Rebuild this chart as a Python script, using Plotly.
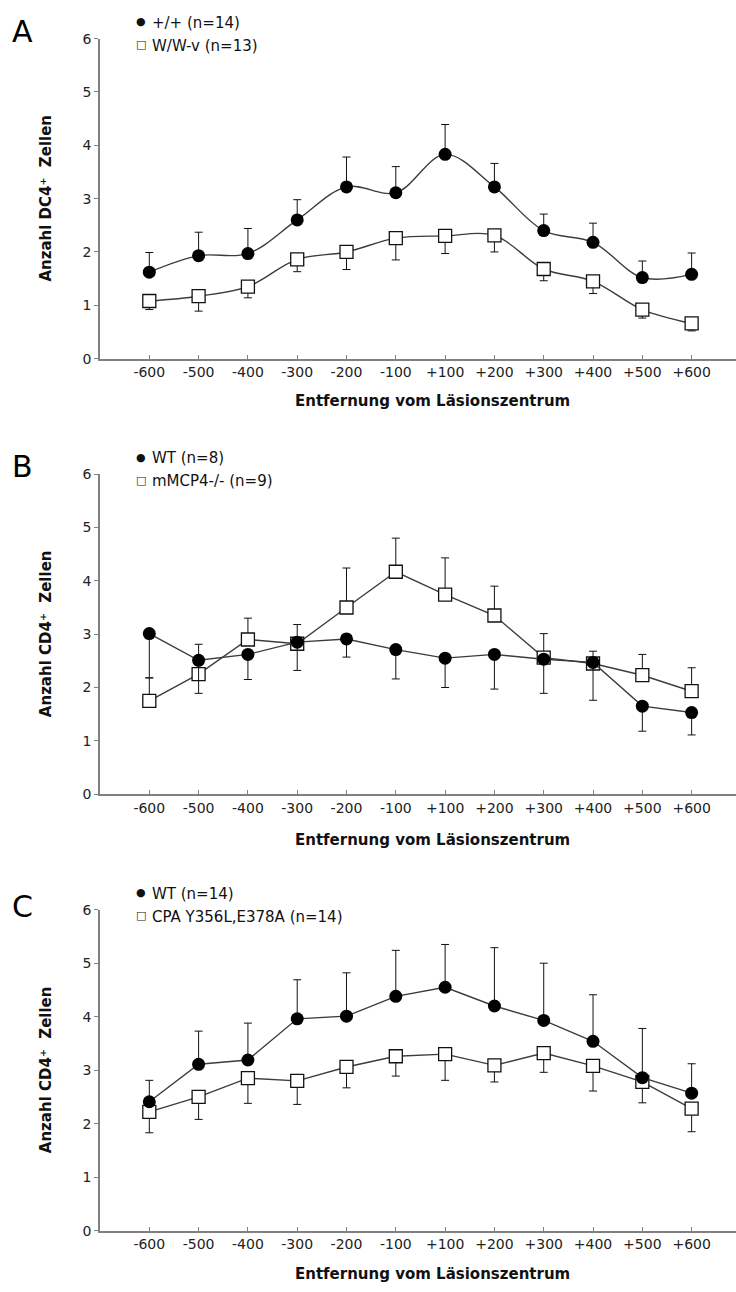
import plotly.graph_objects as go

# Distance from lesion centre (category axis)
distances = ["-600", "-500", "-400", "-300", "-200", "-100",
             "+100", "+200", "+300", "+400", "+500", "+600"]

# Panel A: DC4+ cells, +/+ vs W/W-v
a_wt_mean = [1.62, 1.93, 1.97, 2.60, 3.22, 3.11, 3.83, 3.22, 2.40, 2.18, 1.52, 1.58]
a_wt_err = [0.37, 0.44, 0.47, 0.38, 0.56, 0.49, 0.56, 0.44, 0.31, 0.36, 0.31, 0.40]
a_ww_mean = [1.08, 1.17, 1.35, 1.86, 2.00, 2.26, 2.30, 2.31, 1.68, 1.45, 0.92, 0.66]
a_ww_err = [0.16, 0.28, 0.21, 0.23, 0.33, 0.41, 0.33, 0.31, 0.22, 0.23, 0.16, 0.14]

# Panel B: CD4+ cells, WT vs mMCP4-/-
b_wt_mean = [3.01, 2.51, 2.62, 2.85, 2.91, 2.71, 2.55, 2.62, 2.53, 2.47, 1.65, 1.53]
b_wt_err = [0.83, 0.62, 0.47, 0.53, 0.34, 0.55, 0.55, 0.65, 0.64, 0.71, 0.47, 0.42]
b_ko_mean = [1.75, 2.25, 2.90, 2.82, 3.50, 4.17, 3.74, 3.35, 2.56, 2.45, 2.23, 1.93]
b_ko_err = [0.43, 0.56, 0.40, 0.36, 0.74, 0.63, 0.69, 0.55, 0.45, 0.23, 0.39, 0.44]

# Panel C: CD4+ cells, WT vs CPA Y356L,E378A
c_wt_mean = [2.41, 3.11, 3.19, 3.96, 4.01, 4.38, 4.55, 4.20, 3.93, 3.54, 2.86, 2.57]
c_wt_err = [0.40, 0.62, 0.69, 0.73, 0.81, 0.86, 0.80, 1.09, 1.07, 0.87, 0.92, 0.55]
c_cpa_mean = [2.22, 2.50, 2.85, 2.80, 3.06, 3.26, 3.30, 3.09, 3.32, 3.08, 2.78, 2.28]
c_cpa_err = [0.39, 0.42, 0.47, 0.44, 0.39, 0.37, 0.49, 0.31, 0.36, 0.47, 0.39, 0.43]

y_ticks = [0, 1, 2, 3, 4, 5, 6]

panels = [
    dict(letter="A", ytitle="Anzahl DC4⁺  Zellen", shape="spline",
         filled=("+/+ (n=14)", a_wt_mean, a_wt_err, "up"),
         open_=("W/W-v (n=13)", a_ww_mean, a_ww_err, "down"),
         top=31, bottom=355, letter_y=24, title_y=398),
    dict(letter="B", ytitle="Anzahl CD4⁺  Zellen", shape="linear",
         filled=("WT (n=8)", b_wt_mean, b_wt_err, "down"),
         open_=("mMCP4-/- (n=9)", b_ko_mean, b_ko_err, "up"),
         top=472, bottom=796, letter_y=464, title_y=842),
    dict(letter="C", ytitle="Anzahl CD4⁺  Zellen", shape="linear",
         filled=("WT (n=14)", c_wt_mean, c_wt_err, "up"),
         open_=("CPA Y356L,E378A (n=14)", c_cpa_mean, c_cpa_err, "down"),
         top=913, bottom=1238, letter_y=910, title_y=1282),
]

W, H = 736, 1292
LEFT = 100
PLOT_W = W - LEFT


def px_x(px):
    return (px - LEFT) / PLOT_W


def px_y(py):
    return 1 - py / H


LINE = "#3c3c3c"
AXIS = "#808080"
TICKFONT = dict(family="DejaVu Sans", size=14, color="#222222")
BOLD = dict(family="DejaVu Sans", size=15, color="#111111", weight="bold")

fig = go.Figure()
x_idx = list(range(len(distances)))
annotations = []


def err(vals, direction):
    zeros = [0] * len(vals)
    if direction == "up":
        return dict(type="data", symmetric=False, array=vals, arrayminus=zeros,
                    color="#111111", thickness=1, width=4)
    return dict(type="data", symmetric=False, array=zeros, arrayminus=vals,
                color="#111111", thickness=1, width=4)


for i, p in enumerate(panels):
    n = "" if i == 0 else str(i + 1)
    xa, ya = "x" + n, "y" + n

    name_o, mean_o, err_o, dir_o = p["open_"]
    fig.add_trace(go.Scatter(
        x=x_idx, y=mean_o, name=name_o, xaxis=xa, yaxis=ya,
        mode="lines+markers", showlegend=False,
        line=dict(color=LINE, width=1.4, shape=p["shape"], smoothing=1.0),
        marker=dict(symbol="square", size=13, color="white",
                    line=dict(color="#111111", width=1.3)),
        error_y=err(err_o, dir_o),
    ))
    name_f, mean_f, err_f, dir_f = p["filled"]
    fig.add_trace(go.Scatter(
        x=x_idx, y=mean_f, name=name_f, xaxis=xa, yaxis=ya,
        mode="lines+markers", showlegend=False,
        line=dict(color=LINE, width=1.4, shape=p["shape"], smoothing=1.0),
        marker=dict(symbol="circle", size=13, color="black",
                    line=dict(color="black", width=0)),
        error_y=err(err_f, dir_f),
    ))

    dom = [px_y(p["bottom"]), px_y(p["top"])]
    fig.update_layout(**{
        "xaxis" + n: dict(
            domain=[0, 1], anchor=ya, range=[-1, 11.9],
            tickmode="array", tickvals=x_idx, ticktext=distances,
            ticks="inside", ticklen=4, tickcolor=AXIS, tickwidth=1,
            showline=True, linecolor=AXIS, linewidth=1.5,
            showgrid=False, zeroline=False, tickfont=TICKFONT,
        ),
        "yaxis" + n: dict(
            domain=dom, anchor=xa, range=[0, 6],
            tickmode="array", tickvals=y_ticks,
            ticks="outside", ticklen=4, tickcolor=AXIS, tickwidth=1,
            showline=True, linecolor=AXIS, linewidth=1.5,
            showgrid=False, zeroline=False, tickfont=TICKFONT,
        ),
    })

    # panel letter
    annotations.append(dict(
        text=p["letter"], x=px_x(22), y=px_y(p["letter_y"]), xref="paper", yref="paper",
        xanchor="center", yanchor="middle", showarrow=False,
        font=dict(family="DejaVu Sans", size=30, color="black"),
    ))
    # y-axis title
    annotations.append(dict(
        text=p["ytitle"], x=px_x(46), y=(dom[0] + dom[1]) / 2, xref="paper", yref="paper",
        xanchor="center", yanchor="middle", showarrow=False, textangle=-90,
        font=BOLD,
    ))
    # x-axis title
    annotations.append(dict(
        text="Entfernung vom Läsionszentrum", x=px_x(432), y=px_y(p["title_y"]),
        xref="paper", yref="paper", xanchor="center", yanchor="middle",
        showarrow=False, font=BOLD,
    ))
    # legend rows: symbol and label
    for k, (sym, label) in enumerate([("●", name_f), ("□", name_o)]):
        row_y = p["top"] - 16 + 23 * k
        annotations.append(dict(
            text=sym, x=px_x(141), y=px_y(row_y - 1),
            xref="paper", yref="paper", xanchor="center", yanchor="middle",
            showarrow=False, font=dict(family="DejaVu Sans", size=11, color="#111111"),
        ))
        annotations.append(dict(
            text=label, x=px_x(150), y=px_y(row_y),
            xref="paper", yref="paper", xanchor="left", yanchor="middle",
            showarrow=False, font=dict(family="DejaVu Sans", size=15, color="#111111"),
        ))

fig.update_layout(
    width=W, height=H,
    margin=dict(l=LEFT, r=0, t=0, b=0),
    paper_bgcolor="white", plot_bgcolor="white",
    annotations=annotations,
    showlegend=False,
)

fig.write_html("out.html")
